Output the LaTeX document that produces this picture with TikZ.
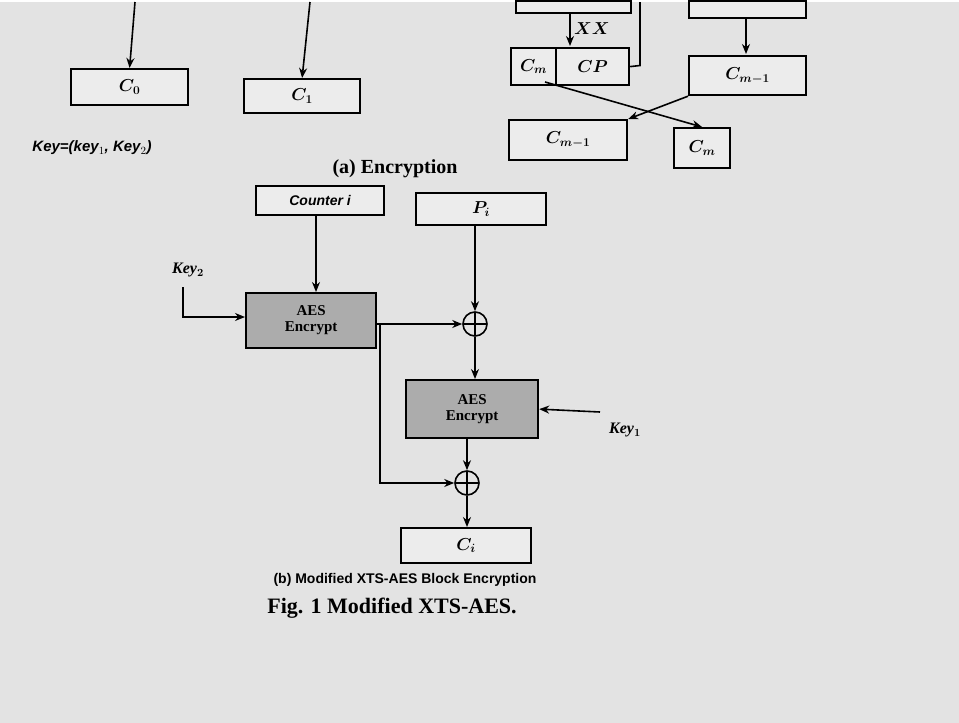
\documentclass[tikz,border=0pt]{standalone}
\usepackage{fontspec}
\setmainfont{Liberation Serif}
\setsansfont{Liberation Sans}
\usetikzlibrary{arrows.meta}
\begin{document}
\begin{tikzpicture}[x=1pt,y=-1pt,
 bx/.style={draw,line width=2.2pt,fill=white!85!gray,inner sep=0pt,anchor=north west},
 aes/.style={draw,line width=2.2pt,fill=gray!65,inner sep=0pt,anchor=north west,align=center,font=\bfseries\fontsize{15}{16}\selectfont},
 ar/.style={line width=1.6pt,-{Stealth[length=10pt,width=8pt]}},
 ln/.style={line width=1.6pt},
 xo/.style={circle,draw,line width=1.6pt,minimum size=24pt,inner sep=0pt,path picture={\draw[line width=1.6pt](path picture bounding box.north)--(path picture bounding box.south)(path picture bounding box.west)--(path picture bounding box.east);}},
 lab/.style={font=\boldmath\itshape\fontsize{17}{18}\selectfont}]
\fill[gray!22] (0,0) rectangle (959,721);
% top left
\node[bx,minimum width=117pt,minimum height=36pt,lab] (c0) at (70,66) {$C_0$};
\node[bx,minimum width=116pt,minimum height=34pt,lab] (c1) at (243,76) {$C_1$};
\coordinate (t0) at (135,0); \coordinate (t1) at (310,0);
\draw[ar] (t0) -- (c0.north);
\draw[ar] (t1) -- (c1.north);
\node[font=\bfseries\itshape\sffamily\fontsize{15}{16}\selectfont] (key) at (92,146) {Key=(key$_1$, Key$_2$)};
% top right
\node[bx,minimum width=115pt,minimum height=12pt] (pa) at (515,-2) {};
\node[bx,minimum width=117pt,minimum height=17pt] (pb) at (688,-2) {};
\node[bx,minimum width=45pt,minimum height=37pt,lab] (cm) at (510,45) {$C_m$};
\node[bx,minimum width=73pt,minimum height=37pt,lab] (cp) at (555,45) {$CP$};
\draw[ar] (570,10) -- (570,44) node[midway,right,lab]{$XX$};
\coordinate (v0) at (640,0);
\draw[ln] (cp.east) -- (640,63.5) -- (v0);
\node[bx,minimum width=117pt,minimum height=39pt,lab] (cm1) at (688,53) {$C_{m-1}$};
\draw[ar] (746,15) -- (746,52);
\node[bx,minimum width=118pt,minimum height=40pt,lab] (cm1b) at (508,117) {$C_{m-1}$};
\node[bx,minimum width=56pt,minimum height=40pt,lab] (cmb) at (673,125) {$C_m$};
\draw[ar] (cm1.south west) -- (cm1b.north east);
\draw[ar] (545,80) -- (cmb.north);
\node[font=\bfseries\fontsize{20}{22}\selectfont] (cap1) at (395,167) {(a) Encryption};
% part b
\node[bx,minimum width=128pt,minimum height=29pt,font=\bfseries\itshape\sffamily\fontsize{14}{15}\selectfont] (ctr) at (255,183) {Counter \textit{i}};
\node[bx,minimum width=130pt,minimum height=32pt,lab] (pi) at (415,190) {$P_i$};
\node[aes,minimum width=130pt,minimum height=55pt] (a1) at (245,290) {AES\\Encrypt};
\node[aes,minimum width=132pt,minimum height=58pt] (a2) at (405,377) {AES\\Encrypt};
\node[xo] (x1) at (475,322) {};
\node[xo] (x2) at (467,481) {};
\node[bx,minimum width=130pt,minimum height=35pt,lab] (ci) at (400,525) {$C_i$};
\node[lab,font=\boldmath\bfseries\itshape\fontsize{16}{17}\selectfont] (k2) at (188,268) {Key$_2$};
\node[lab,font=\boldmath\bfseries\itshape\fontsize{16}{17}\selectfont] (k1) at (625,428) {Key$_1$};
\draw[ar] (ctr.south -| 316,0) -- (316,290);
\draw[ar] (475,222) -- (x1.north);
\draw[ar] (183,285) -- (183,315) -- (245,315);
\draw[ar] (375,322) -- (x1.west);
\draw[ar] (380,322) -- (380,481) -- (x2.west);
\draw[ar] (x1.south) -- (475,377);
\draw[ar] (600,410) -- (a2.east);
\draw[ar] (467,435) -- (x2.north);
\draw[ar] (x2.south) -- (467,525);
\node[font=\bfseries\sffamily\fontsize{14}{15}\selectfont] (cap2) at (405,578) {(b)\ Modified XTS-AES Block Encryption};
\node[font=\bfseries\fontsize{22}{24}\selectfont] (fig) at (392,606) {Fig. 1 Modified XTS-AES.};
\end{tikzpicture}
\end{document}
